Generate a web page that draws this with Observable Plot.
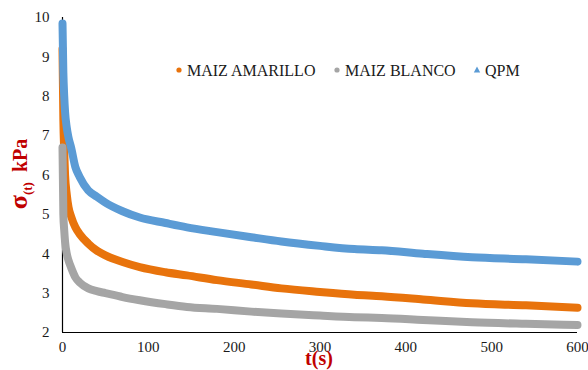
<!DOCTYPE html>
<html>
<head>
<meta charset="utf-8">
<script src="https://cdn.jsdelivr.net/npm/d3@7"></script>
<script src="https://cdn.jsdelivr.net/npm/@observablehq/plot@0.6"></script>
<style>
  body { margin: 0; background: white; }
  #chart { position: relative; width: 588px; height: 370px; }
</style>
</head>
<body>
<div id="chart"></div>
<script>
// time (s)
const times = [0, 1, 2, 3, 5, 7, 10, 15, 20, 30, 40, 50, 70, 90, 120, 145, 180, 220, 255, 300, 340, 372, 420, 477, 540, 600];
// stress σ(t) kPa
const maizAmarillo = [9.2, 7.4, 6.6, 6.0, 5.5, 5.18, 4.95, 4.67, 4.5, 4.26, 4.08, 3.96, 3.79, 3.66, 3.53, 3.45, 3.33, 3.22, 3.12, 3.03, 2.96, 2.92, 2.84, 2.74, 2.69, 2.63];
const maizBlanco = [6.7, 5.0, 4.6, 4.3, 4.0, 3.83, 3.65, 3.4, 3.27, 3.12, 3.05, 3.0, 2.9, 2.82, 2.72, 2.65, 2.6, 2.53, 2.48, 2.43, 2.39, 2.37, 2.32, 2.26, 2.22, 2.19];
const qpm = [9.85, 8.6, 8.0, 7.6, 7.2, 6.95, 6.7, 6.2, 5.95, 5.61, 5.45, 5.3, 5.08, 4.92, 4.78, 4.67, 4.55, 4.42, 4.31, 4.2, 4.12, 4.09, 4.0, 3.91, 3.86, 3.8];

const seriesNames = ["MAIZ AMARILLO", "MAIZ BLANCO", "QPM"];
const seriesColors = ["#E8730C", "#A5A5A5", "#5B9BD5"];
const seriesValues = [maizAmarillo, maizBlanco, qpm];
const xTicks = [0, 100, 200, 300, 400, 500, 600];
const yTicks = [2, 3, 4, 5, 6, 7, 8, 9, 10];

const data = seriesNames.flatMap((name, s) =>
  times.map((t, i) => ({ t, v: seriesValues[s][i], name })));

const chart = Plot.plot({
  width: 588,
  height: 370,
  marginLeft: 62,
  marginRight: 11,
  marginTop: 17,
  marginBottom: 38,
  style: { fontFamily: "'Liberation Serif', 'Times New Roman', serif", fontSize: "15px", color: "#1a1a1a", background: "white" },
  x: { domain: [0, 600], ticks: xTicks, label: null },
  y: { domain: [2, 10], ticks: yTicks, label: null },
  color: { domain: seriesNames, range: seriesColors },
  marks: [
    Plot.axisX({ ticks: xTicks, tickSize: 0, tickPadding: 9, label: null }),
    Plot.axisY({ ticks: yTicks, tickSize: 0, tickPadding: 13, label: null }),
    Plot.ruleX([0], { stroke: "#000", strokeWidth: 1.2 }),
    Plot.ruleY([2], { stroke: "#000", strokeWidth: 1.2 }),
    Plot.line(data, { x: "t", y: "v", z: "name", stroke: "name", strokeWidth: 8, curve: "monotone-x", strokeLinecap: "round", strokeLinejoin: "round" })
  ]
});

document.getElementById("chart").appendChild(chart);

const svg = d3.select(chart);
// Legend
const legend = svg.append("g")
  .attr("font-family", "'Liberation Serif', 'Times New Roman', serif")
  .attr("font-size", 16)
  .attr("text-anchor", "start")
  .attr("fill", "#1a1a1a");
const legendX = [179, 337, 477];
seriesNames.forEach((name, i) => {
  const mx = legendX[i];
  if (i < 2) {
    legend.append("circle").attr("cx", mx).attr("cy", 70).attr("r", 2.6).attr("fill", seriesColors[i]);
  } else {
    legend.append("path").attr("d", `M${mx},66.5 L${mx + 3.2},72.5 L${mx - 3.2},72.5 Z`).attr("fill", seriesColors[i]);
  }
  legend.append("text").attr("x", mx + 8).attr("y", 75.5).attr("text-anchor", "start").text(name);
});

// Axis titles
const red = "#C00000";
const yLabel = svg.append("text")
  .attr("transform", "translate(27,174) rotate(-90)")
  .attr("text-anchor", "middle")
  .attr("font-family", "'Liberation Serif', 'Times New Roman', serif")
  .attr("font-weight", "bold")
  .attr("fill", red)
  .attr("font-size", 20);
yLabel.append("tspan").attr("font-size", 26).text("σ");
yLabel.append("tspan").attr("font-size", 13).attr("dy", 5).text("(t)");
yLabel.append("tspan").attr("dy", -5).text("\u00a0 kPa");

svg.append("text")
  .attr("x", 319)
  .attr("y", 365)
  .attr("text-anchor", "middle")
  .attr("font-family", "'Liberation Serif', 'Times New Roman', serif")
  .attr("font-weight", "bold")
  .attr("font-size", 20)
  .attr("fill", red)
  .text("t(s)");
</script>
</body>
</html>
